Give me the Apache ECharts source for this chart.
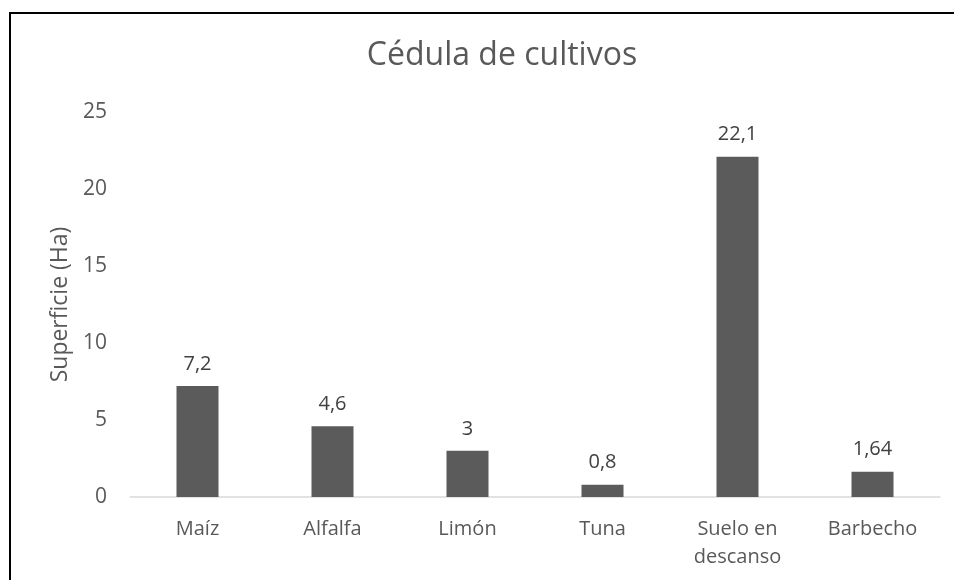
<!DOCTYPE html>
<html>
<head>
<meta charset="utf-8">
<script src="https://cdn.jsdelivr.net/npm/echarts@6/dist/echarts.min.js"></script>
<style>
  html, body { margin: 0; padding: 0; background: #fff; }
  #chart { width: 954px; height: 580px; }
  #frame {
    position: absolute; left: 9px; top: 12px; width: 980px; height: 620px;
    border: 2px solid #000; pointer-events: none;
  }
</style>
</head>
<body>
<div id="chart"></div>
<div id="frame"></div>
<script>
  // datos de la cédula
  const categories = ['Maíz', 'Alfalfa', 'Limón', 'Tuna', 'Suelo en\ndescanso', 'Barbecho']
  const superficie = [7.2, 4.6, 3, 0.8, 22.1, 1.64]
  const yTicks = [0, 5, 10, 15, 20, 25]

  const textColor = '#595959'
  const font = 'Open Sans'

  const chart = echarts.init(document.getElementById('chart'))
  chart.setOption({
    animation: false,
    title: {
      text: 'Cédula de cultivos',
      left: 497,
      top: 35,
      textAlign: 'center',
      textStyle: { fontFamily: font, fontSize: 32, fontWeight: 'normal', color: textColor }
    },
    grid: { left: 130, right: 14, top: 112, bottom: 83 },
    xAxis: {
      type: 'category',
      data: categories,
      axisLine: { lineStyle: { color: '#d9d9d9', width: 1.5 } },
      axisTick: { show: false },
      axisLabel: { fontFamily: font, fontSize: 20, color: textColor, margin: 18, lineHeight: 28 }
    },
    yAxis: {
      type: 'value',
      min: yTicks[0],
      max: yTicks[yTicks.length - 1],
      interval: 5,
      name: 'Superficie (Ha)',
      nameLocation: 'middle',
      nameGap: 56,
      nameTextStyle: { fontFamily: font, fontSize: 23, color: textColor },
      axisLine: { show: false },
      axisTick: { show: false },
      splitLine: { show: false },
      axisLabel: { fontFamily: font, fontSize: 21, color: textColor, margin: 23 }
    },
    series: [{
      type: 'bar',
      data: superficie,
      barWidth: 42,
      itemStyle: { color: '#5b5b5b' },
      label: {
        show: true,
        position: 'top',
        distance: 12,
        fontFamily: font,
        fontSize: 20,
        color: '#404040',
        formatter: p => String(p.value).replace('.', ',')
      }
    }]
  })
</script>
</body>
</html>
